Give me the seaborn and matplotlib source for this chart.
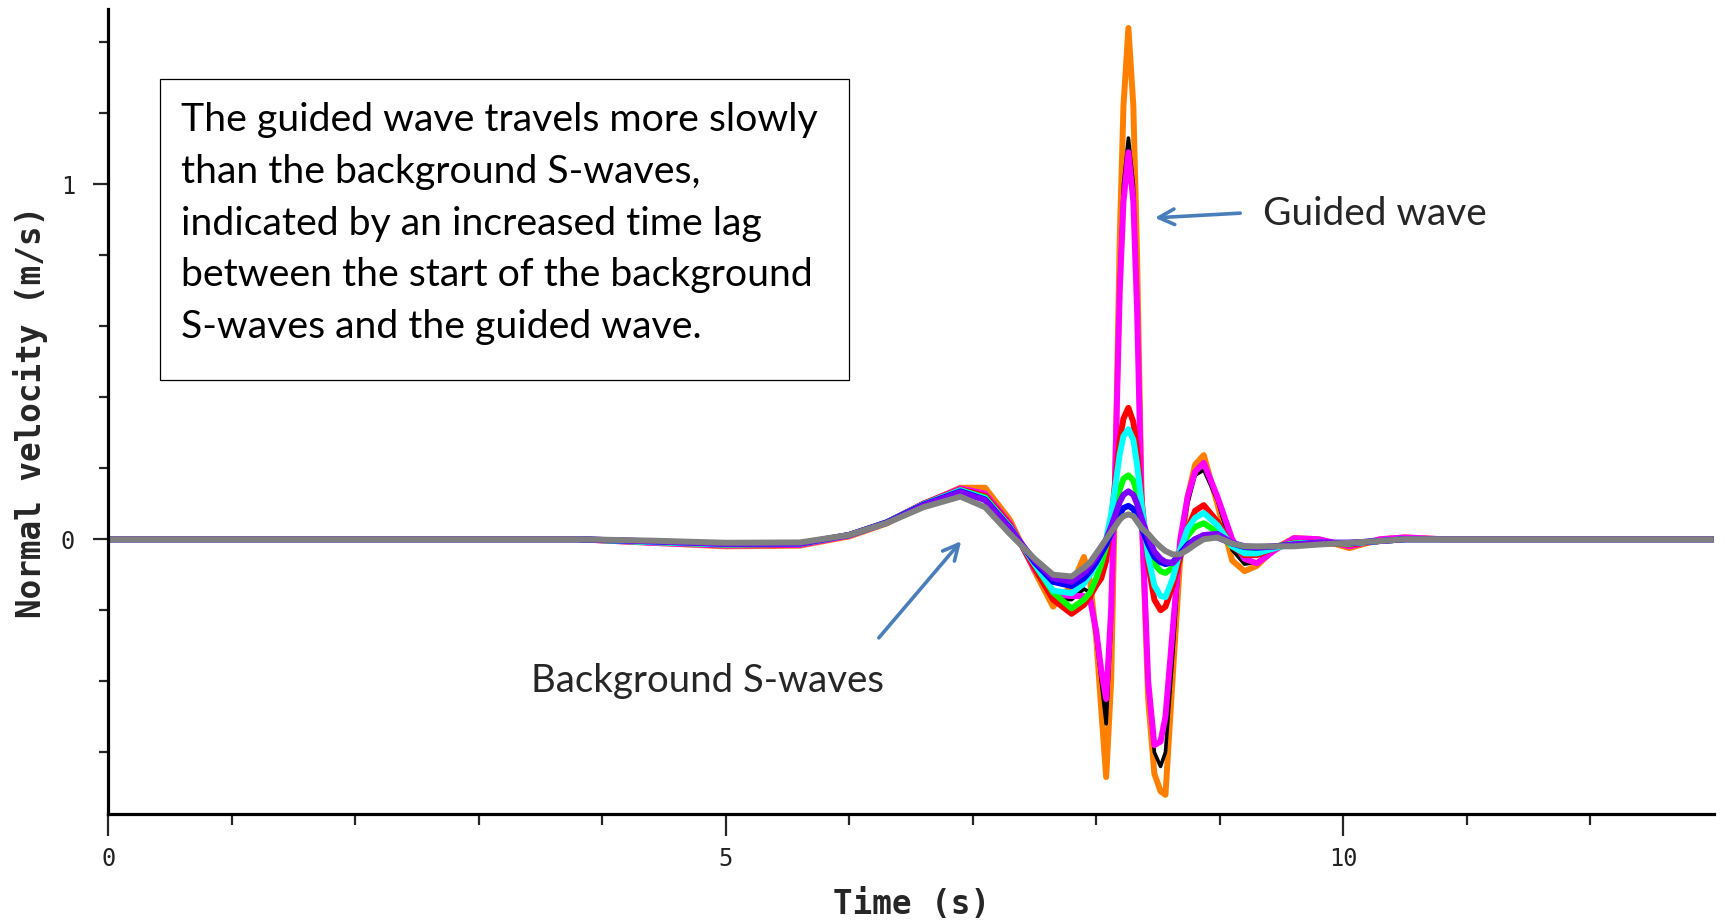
import numpy as np
import pandas as pd
import matplotlib
matplotlib.use("Agg")
import matplotlib.pyplot as plt
import seaborn as sns
from matplotlib.patches import Rectangle
from matplotlib.ticker import FixedLocator

# ---------------- data ----------------
time_s = [0, 3.8, 4.4, 5.0, 5.6, 6.0, 6.3, 6.6, 6.9, 7.1, 7.3, 7.5, 7.65, 7.8, 7.9,
          7.95, 8.0, 8.04, 8.08, 8.12, 8.15, 8.19, 8.22, 8.26, 8.30, 8.33, 8.37, 8.42, 8.47,
          8.52, 8.56, 8.62, 8.68, 8.74, 8.8, 8.87,
          8.98, 9.1, 9.2, 9.3, 9.45, 9.6, 9.8, 10.05, 10.3, 10.5, 10.8, 11.5, 13.0]

orange = ([0, 0, -0.01, -0.02, -0.018, 0.008, 0.044, 0.098, 0.145, 0.145, 0.055, -0.09, -0.19, -0.13, -0.05]
          + [-0.12, -0.28, -0.48, -0.67, -0.4, 0.1, 0.85, 1.22, 1.44, 1.22, 0.8, 0.05, -0.45, -0.66,
             -0.71, -0.72, -0.38, -0.05, 0.12, 0.21, 0.237]
          + [0.1, -0.06, -0.09, -0.075, -0.025, 0.003, 0.0, -0.025, 0.0, 0.005, 0, 0, 0])
black = ([0, 0, -0.01, -0.018, -0.016, 0.01, 0.046, 0.1, 0.145, 0.13, 0.046, -0.088, -0.17, -0.17, -0.14]
         + [-0.15, -0.28, -0.4, -0.52, -0.25, 0.15, 0.75, 1.0, 1.13, 1.0, 0.7, 0.05, -0.42, -0.6,
            -0.64, -0.6, -0.32, -0.02, 0.1, 0.18, 0.195]
         + [0.11, -0.03, -0.07, -0.065, -0.025, 0.003, 0.0, -0.022, 0.0, 0.005, 0, 0, 0])
magenta = ([0, 0, -0.01, -0.018, -0.016, 0.01, 0.046, 0.1, 0.143, 0.128, 0.045, -0.085, -0.155, -0.16, -0.16]
           + [-0.17, -0.26, -0.37, -0.45, -0.2, 0.15, 0.7, 0.95, 1.09, 0.95, 0.65, 0.05, -0.4, -0.58,
              -0.57, -0.5, -0.25, 0.0, 0.12, 0.19, 0.215]
           + [0.12, 0.0, -0.055, -0.068, -0.03, 0.003, 0.0, -0.02, 0.0, 0.005, 0, 0, 0])
red = ([0, 0, -0.008, -0.016, -0.014, 0.012, 0.047, 0.1, 0.14, 0.122, 0.04, -0.08, -0.17, -0.21, -0.185]
       + [-0.16, -0.13, -0.11, -0.06, 0.05, 0.15, 0.28, 0.34, 0.37, 0.33, 0.25, 0.1, -0.07, -0.17,
          -0.2, -0.19, -0.13, -0.05, 0.03, 0.08, 0.096]
       + [0.05, -0.02, -0.045, -0.045, -0.025, -0.01, -0.01, -0.015, -0.005, 0, 0, 0, 0])
green = ([0, 0, -0.008, -0.015, -0.013, 0.012, 0.047, 0.098, 0.138, 0.118, 0.035, -0.07, -0.15, -0.195, -0.17]
         + [-0.15, -0.11, -0.07, -0.02, 0.04, 0.08, 0.14, 0.17, 0.18, 0.165, 0.13, 0.06, -0.02, -0.07,
            -0.09, -0.095, -0.08, -0.03, 0.01, 0.035, 0.045]
         + [0.02, -0.02, -0.032, -0.03, -0.02, -0.012, -0.01, -0.012, -0.005, 0, 0, 0, 0])
cyan = ([0, 0, -0.008, -0.015, -0.013, 0.012, 0.047, 0.098, 0.138, 0.115, 0.035, -0.07, -0.145, -0.152, -0.125]
        + [-0.1, -0.07, -0.04, 0.0, 0.07, 0.14, 0.24, 0.29, 0.31, 0.28, 0.21, 0.09, -0.05, -0.13,
           -0.16, -0.163, -0.11, -0.03, 0.03, 0.06, 0.074]
        + [0.04, -0.02, -0.04, -0.04, -0.025, -0.012, -0.01, -0.012, -0.005, 0, 0, 0, 0])
blue = ([0, 0, -0.006, -0.013, -0.012, 0.012, 0.047, 0.097, 0.135, 0.112, 0.032, -0.065, -0.12, -0.132, -0.11]
        + [-0.09, -0.065, -0.04, -0.015, 0.015, 0.04, 0.07, 0.088, 0.094, 0.085, 0.065, 0.03, -0.015, -0.05,
           -0.065, -0.07, -0.065, -0.04, -0.015, 0.0, 0.008]
        + [0.005, -0.012, -0.022, -0.024, -0.02, -0.015, -0.01, -0.01, -0.005, 0, 0, 0, 0])
purple = ([0, 0, -0.006, -0.013, -0.012, 0.012, 0.046, 0.095, 0.133, 0.11, 0.03, -0.06, -0.11, -0.12, -0.095]
          + [-0.075, -0.05, -0.025, 0.0, 0.035, 0.065, 0.105, 0.125, 0.135, 0.125, 0.1, 0.055, 0.005, -0.035,
             -0.055, -0.064, -0.067, -0.045, -0.02, 0.0, 0.012]
          + [0.015, -0.01, -0.02, -0.022, -0.02, -0.015, -0.01, -0.01, -0.005, 0, 0, 0, 0])
gray = ([0, 0, -0.004, -0.01, -0.009, 0.012, 0.045, 0.09, 0.12, 0.09, 0.015, -0.055, -0.1, -0.105, -0.08]
        + [-0.065, -0.04, -0.02, 0.0, 0.02, 0.035, 0.055, 0.065, 0.07, 0.065, 0.05, 0.03, 0.015, -0.005,
           -0.022, -0.033, -0.043, -0.042, -0.03, -0.015, 0.0]
        + [0.005, -0.012, -0.02, -0.02, -0.02, -0.02, -0.015, -0.01, -0.005, 0.0, 0.0, 0.0, 0.0])

series_names = ["orange", "black", "magenta", "red", "green", "cyan", "blue", "purple", "gray"]
series_values = [orange, black, magenta, red, green, cyan, blue, purple, gray]
series_colors = ["#ff8000", "#000000", "#ff00ff", "#ff0000", "#00ff00", "#00ffff", "#0000ff", "#8000ff", "#808080"]

x_major = [0, 5, 10]
x_minor = [1, 2, 3, 4, 6, 7, 8, 9, 11, 12]
y_major = [0, 1]
y_minor = [-0.6, -0.4, -0.2, 0.2, 0.4, 0.6, 0.8, 1.2, 1.4]

box_lines = ["The guided wave travels more slowly",
             "than the background S-waves,",
             "indicated by an increased time lag",
             "between the start of the background",
             "S-waves and the guided wave."]
guided_label = "Guided wave"
background_label = "Background S-waves"

# ---------------- figure ----------------
sns.set_style("white")
plt.rcParams["font.family"] = ["DejaVu Sans Mono", "DejaVu Sans"]

W, H = 1729, 922
fig = plt.figure(figsize=(W / 100, H / 100), dpi=100)
ax = fig.add_axes([108.3 / W, 1 - 814 / H, (1713.8 - 108.3) / W, (814 - 9) / H])

df = pd.concat([pd.DataFrame({"Time": time_s, "Velocity": v, "series": n})
                for n, v in zip(series_names, series_values)], ignore_index=True)

for n, c in zip(series_names, series_colors):
    sub = df[df["series"] == n]
    lw = 2.6 if n == "black" else 4.3
    sns.lineplot(data=sub, x="Time", y="Velocity", color=c, linewidth=lw,
                 estimator=None, sort=False, legend=False, ax=ax,
                 solid_joinstyle="round", solid_capstyle="butt")

ax.set_xlim(0, 13)
ax.set_ylim(-0.774, 1.4935)

for s in ["top", "right"]:
    ax.spines[s].set_visible(False)
for s in ["left", "bottom"]:
    ax.spines[s].set_linewidth(2.3)
    ax.spines[s].set_color("black")
    ax.spines[s].set_zorder(10)

ax.xaxis.set_major_locator(FixedLocator(x_major))
ax.xaxis.set_minor_locator(FixedLocator(x_minor))
ax.yaxis.set_major_locator(FixedLocator(y_major))
ax.yaxis.set_minor_locator(FixedLocator(y_minor))
ax.set_xticklabels([str(v) for v in x_major])
ax.set_yticklabels([str(v) for v in y_major])
ax.tick_params(axis="x", which="major", direction="out", length=16, width=1.6, pad=8,
               labelsize=17, labelcolor="#222222", bottom=True)
ax.tick_params(axis="x", which="minor", direction="out", length=8, width=1.6, bottom=True)
ax.tick_params(axis="y", which="major", direction="out", length=11, width=1.6, pad=13,
               labelsize=17, labelcolor="#222222", left=True)
ax.tick_params(axis="y", which="minor", direction="out", length=6.5, width=1.6, left=True)

ax.set_xlabel("Time (s)", fontsize=23.5, fontweight="bold", labelpad=12)
ax.set_ylabel("Normal velocity (m/s)", fontsize=23.5, fontweight="bold", labelpad=9)

# ---------------- annotations ----------------
renderer = fig.canvas.get_renderer()


def fig_pt(x, y):
    return x / W, 1 - y / H


def fitted_size(text, target_w, family="Lato", size0=28):
    t = fig.text(0, 0, text, fontsize=size0, family=family)
    w = t.get_window_extent(renderer).width
    t.remove()
    return size0 * target_w / w


box = Rectangle(fig_pt(160, 380), (849 - 160) / W, (380 - 79) / H, transform=fig.transFigure,
                fill=True, facecolor="white", edgecolor="black", linewidth=0.9, zorder=5)
fig.patches.append(box)

box_size = fitted_size(box_lines[0], 638.5)
baselines = [131, 183, 235, 286, 338]
for line, yb in zip(box_lines, baselines):
    fig.text(*fig_pt(181, yb), line, fontsize=box_size, family="Lato", ha="left", va="baseline",
             color="black", zorder=6)

g_size = fitted_size(guided_label, 224)
fig.text(*fig_pt(1263, 225), guided_label, fontsize=g_size, family="Lato", ha="left", va="baseline")
b_size = fitted_size(background_label, 352)
fig.text(*fig_pt(531, 692), background_label, fontsize=b_size, family="Lato", ha="left", va="baseline")

arrow_color = "#4a7ebb"
ax.annotate("", xy=fig_pt(1152, 218), xycoords="figure fraction",
            xytext=fig_pt(1243, 213), textcoords="figure fraction",
            arrowprops=dict(arrowstyle="->", color=arrow_color, lw=2.6, mutation_scale=28))
ax.annotate("", xy=fig_pt(963, 539), xycoords="figure fraction",
            xytext=fig_pt(877, 640), textcoords="figure fraction",
            arrowprops=dict(arrowstyle="->", color=arrow_color, lw=2.6, mutation_scale=28))

fig.savefig("out.png", dpi=100, facecolor="white")
